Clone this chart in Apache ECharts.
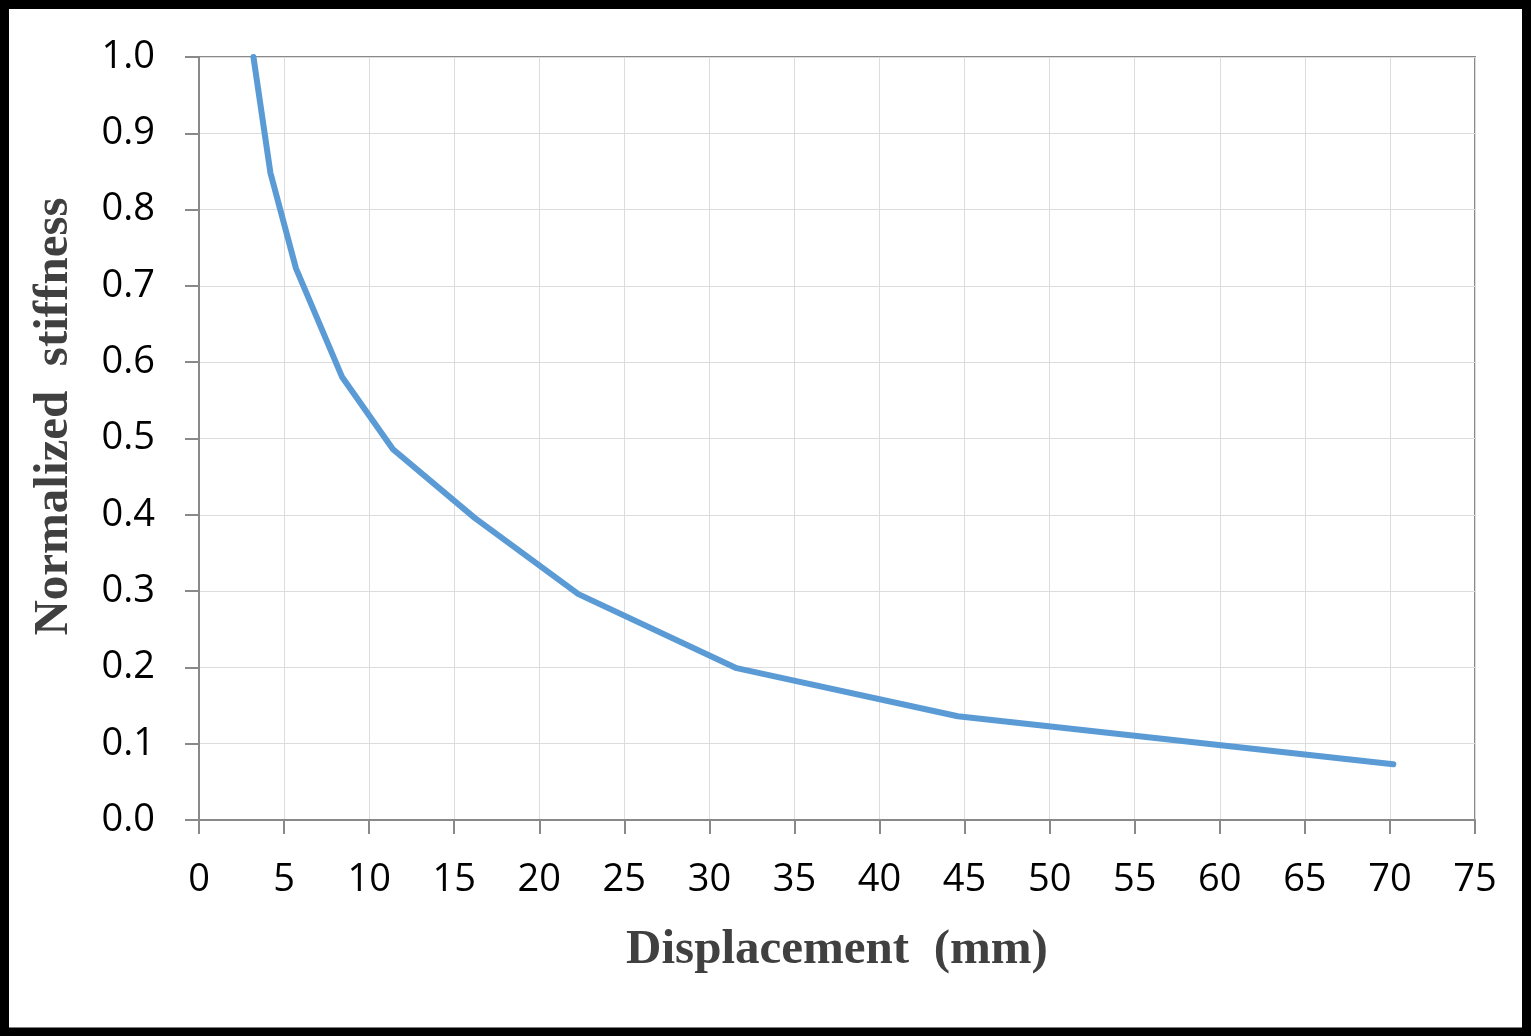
<!DOCTYPE html>
<html>
<head>
<meta charset="utf-8">
<script src="https://cdn.jsdelivr.net/npm/echarts@6/dist/echarts.min.js"></script>
<style>
  html, body { margin: 0; padding: 0; background: #fff; }
  #chart { width: 1531px; height: 1036px; }
</style>
</head>
<body>
<div id="chart"></div>
<script>
// displacement (mm) vs normalized stiffness
var displacement = [3.2, 4.2, 5.7, 8.4, 11.4, 16.2, 22.3, 31.6, 44.6, 70.2];
var stiffness = [1.0, 0.848, 0.723, 0.581, 0.486, 0.396, 0.296, 0.199, 0.136, 0.073];

var points = [];
for (var i = 0; i < displacement.length; i++) {
  points.push([displacement[i], stiffness[i]]);
}

var axisGrey = '#898989';
var gridGrey = '#dcdcdc';
var labelFont = {
  fontFamily: 'Open Sans',
  fontSize: 38,
  color: '#000'
};
var titleFont = {
  fontFamily: 'Liberation Serif',
  fontWeight: 'bold',
  fontSize: 49,
  color: '#404040'
};

var chart = echarts.init(document.getElementById('chart'));
chart.setOption({
  animation: false,
  backgroundColor: '#fff',
  grid: {
    left: 199,
    right: 56,
    top: 57,
    bottom: 216,
    show: true,
    borderColor: axisGrey,
    borderWidth: 2
  },
  xAxis: {
    type: 'value',
    min: 0,
    max: 75,
    interval: 5,
    name: 'Displacement  (mm)',
    nameLocation: 'middle',
    nameGap: 106,
    nameTextStyle: titleFont,
    axisLine: { show: true, lineStyle: { color: axisGrey, width: 2 } },
    axisTick: { show: true, length: 14, lineStyle: { color: axisGrey, width: 2 } },
    axisLabel: Object.assign({ margin: 41 }, labelFont),
    splitLine: { show: true, lineStyle: { color: gridGrey, width: 1 } }
  },
  yAxis: {
    type: 'value',
    min: 0,
    max: 1,
    interval: 0.1,
    name: 'Normalized  stiffness',
    nameLocation: 'middle',
    nameGap: 120,
    nameTextStyle: Object.assign({ padding: [0, 0, 0, 44] }, titleFont),
    axisLine: { show: true, lineStyle: { color: axisGrey, width: 2 } },
    axisTick: { show: true, length: 14, lineStyle: { color: axisGrey, width: 2 } },
    axisLabel: Object.assign({
      margin: 44,
      formatter: function (v) { return v.toFixed(1); }
    }, labelFont),
    splitLine: { show: true, lineStyle: { color: gridGrey, width: 1 } }
  },
  series: [{
    type: 'line',
    data: points,
    showSymbol: false,
    lineStyle: { color: '#5b9bd5', width: 6, cap: 'round', join: 'round' }
  }],
  graphic: [{
    type: 'rect',
    shape: { x: 4.5, y: 4.5, width: 1522, height: 1027.5 },
    style: { fill: null, stroke: '#000', lineWidth: 9 },
    z: 100
  }]
});
</script>
</body>
</html>
